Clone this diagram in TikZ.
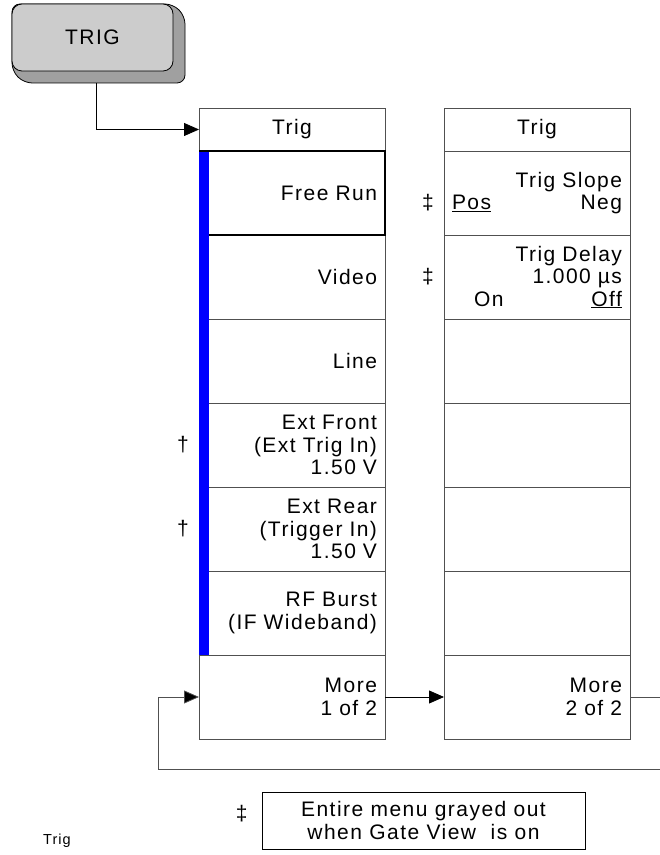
\documentclass[tikz,border=0pt]{standalone}
\usepackage{fontspec}
\setmainfont{Liberation Sans}[LetterSpace=7]
\usetikzlibrary{arrows.meta,positioning}
\definecolor{keyface}{HTML}{CCCCCC}
\definecolor{keyside}{HTML}{A0A0A0}
\definecolor{framegray}{HTML}{505050}
\definecolor{barblue}{HTML}{0000FF}

\begin{document}
\begin{tikzpicture}[
			x=1pt,y=1pt,
			node distance=0pt,
			menufont/.style={font=\fontsize{21pt}{22.5pt}\selectfont},
			softkey/.style={draw=framegray,line width=0.9pt,outer sep=0pt,minimum width=186pt,minimum height=84pt,text width=170pt,inner xsep=8pt,inner ysep=2pt,align=right,menufont},
			menuhead/.style={softkey,minimum height=43pt,align=center},
			hardkey/.style={draw=black,line width=0.8pt,fill=keyface,rounded corners=10pt,minimum width=161pt,minimum height=67pt,menufont},
			selkey/.style={draw=black,line width=2.4pt},
			dagmark/.style={menufont,inner sep=0pt},
			arr/.style={-{Triangle[length=15pt,width=13pt,fill=black]},line width=0.8pt},
			loopline/.style={draw=framegray,line width=0.9pt}
			]
			\useasboundingbox (0,0) rectangle (660,855);
			% hard key with its side face
			\filldraw[fill=keyside,draw=black,line width=0.8pt,rounded corners=8pt] (12,851) -- (173,851) -- (185,839) -- (185,772) -- (24,772) -- (12,784) -- cycle;
			\coordinate (keybase) at (96,772);
			\node[hardkey] (trig) at (92.5,817.5) {TRIG};
			% menu 1 of 2
			\node[menuhead] (head1) at (292,725.5) {Trig};
			\node[softkey] (fr) [below=of head1] {Free Run};
			\node[softkey] (vid) [below=of fr] {Video};
			\node[softkey] (lin) [below=of vid] {Line};
			\node[softkey] (extf) [below=of lin] {Ext Front\\(Ext Trig In)\\1.50 V};
			\node[softkey] (extr) [below=of extf] {Ext Rear\\(Trigger In)\\1.50 V};
			\node[softkey] (rfb) [below=of extr] {RF Burst\\(IF Wideband)};
			\node[softkey] (more1) [below=of rfb] {More\\1 of 2};
			\fill[barblue] ([yshift=-1.2pt]fr.north west) rectangle ([xshift=10pt]rfb.south west);
			\draw[selkey] ([xshift=10pt]fr.south west) -- (fr.south east) -- (fr.north east) -- (fr.north west);
			% menu 2 of 2
			\node[menuhead] (head2) at (537,725.5) {Trig};
			\node[softkey] (slope) [below=of head2] {Trig Slope\\\underline{Pos}\hfill Neg};
			\node[softkey] (delay) [below=of slope] {Trig Delay\\1.000 µs\\\hspace*{22pt}On\hfill\underline{Off}};
			\node[softkey] (blank3) [below=of delay] {};
			\node[softkey] (blank4) [below=of blank3] {};
			\node[softkey] (blank5) [below=of blank4] {};
			\node[softkey] (blank6) [below=of blank5] {};
			\node[softkey] (more2) [below=of blank6] {More\\2 of 2};
			% footnote marks
			\node[dagmark] at ([xshift=-16pt]extf.west) {†};
			\node[dagmark] at ([xshift=-16pt]extr.west) {†};
			\node[dagmark] at ([xshift=-16pt,yshift=-10pt]slope.west) {‡};
			\node[dagmark] at ([xshift=-16pt]delay.west) {‡};
			% connectors
			\draw[arr] (keybase) |- (head1.west);
			\draw[arr] (more1.east) -- (more2.west);
			\coordinate (loopr) at (665,86);
			\coordinate (loopl) at (158,86);
			\draw[loopline,arr] (more2.east) -| (loopr) -- (loopl) |- (more1.west);
			% note and page name
			\node[draw=black,line width=0.8pt,minimum width=323pt,minimum height=57pt,align=center,menufont,inner sep=0pt] (note) at (423.5,34.5) {Entire menu grayed out\\when Gate View~ is on};
			\node[dagmark] at ([xshift=-20pt,yshift=6.5pt]note.west) {‡};
			\node[font=\fontsize{14.5pt}{16pt}\selectfont,anchor=base west,inner sep=0pt] (pagename) at (43,10) {Trig};
		\end{tikzpicture}
\end{document}
